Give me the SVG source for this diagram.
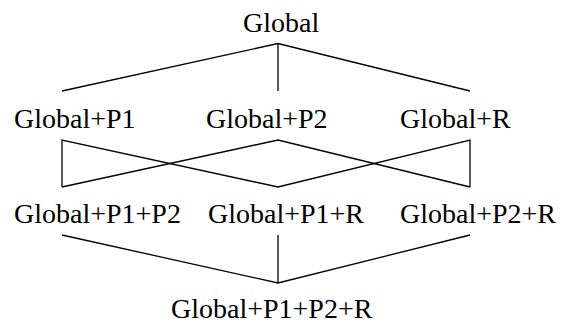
<svg xmlns="http://www.w3.org/2000/svg" width="564" height="333" viewBox="0 0 564 333">
<style>
text{font-family:"Liberation Serif","Times New Roman",serif;font-size:28px;fill:#000}
.e{stroke:#000;stroke-width:1.3;fill:none}
</style>
<rect width="564" height="333" fill="#fff"/>
<g id="connectors">
<path class="e" d="M62,91 L278,43.5 L470,91 M278,43.5 L278,91"/>
<path class="e" d="M62,187 L62,140 L278,187 L470,140 L470,187 M62,187 L278,140 L470,187"/>
<path class="e" d="M62,235 L278,283 L470,235 M278,235 L278,283"/>
</g>
<g id="n0"><text x="243" y="32">Global</text></g>
<g id="n1"><text x="14" y="128">Global+P1</text></g>
<g id="n2"><text x="206" y="128">Global+P2</text></g>
<g id="n3"><text x="400" y="128">Global+R</text></g>
<g id="n4"><text x="14" y="223">Global+P1+P2</text></g>
<g id="n5"><text x="208" y="223">Global+P1+R</text></g>
<g id="n6"><text x="400" y="223">Global+P2+R</text></g>
<g id="n7"><text x="171" y="318">Global+P1+P2+R</text></g>
</svg>
